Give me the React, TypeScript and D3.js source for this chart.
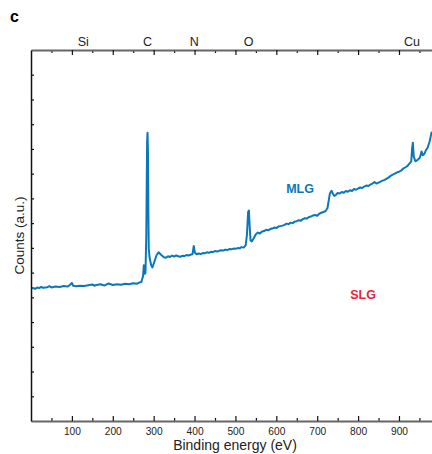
import { useEffect, useRef } from "react";
import * as d3 from "d3";

// binding energy (eV) and counts (a.u.)
const energies = [
  0, 5, 10, 15, 20, 25, 30, 40, 45, 50, 60, 70, 80, 90, 95, 100, 103, 110, 120, 130,
  140, 150, 155, 160, 170, 175, 180, 185, 190, 200, 210, 220, 230, 240, 250, 260, 265, 270, 274, 276,
  278, 280, 282, 284, 285, 286, 287, 288, 290, 294, 297, 302, 307, 312, 318, 325, 330, 335, 340, 345,
  350, 355, 360, 365, 370, 375, 380, 385, 390, 395, 398, 401, 405, 410, 415, 420, 425, 430, 435, 440,
  445, 450, 455, 460, 465, 470, 475, 480, 485, 490, 495, 500, 505, 510, 515, 520, 525, 528, 531, 533,
  535, 537, 540, 545, 550, 555, 560, 565, 570, 575, 580, 585, 590, 595, 600, 605, 610, 615, 620, 625,
  630, 635, 640, 645, 650, 655, 660, 665, 670, 675, 680, 685, 690, 695, 700, 705, 710, 715, 720, 725,
  728, 731, 735, 738, 742, 746, 750, 755, 760, 765, 770, 775, 780, 785, 790, 795, 800, 805, 810, 815,
  820, 825, 830, 835, 840, 845, 850, 855, 860, 865, 870, 875, 880, 885, 890, 895, 900, 905, 910, 915,
  920, 925, 930, 932, 934, 936, 940, 945, 950, 953, 955, 958, 962, 966, 970, 975, 980,
];
const counts = [
  5.36, 5.38, 5.34, 5.4, 5.37, 5.42, 5.39, 5.41, 5.45, 5.4, 5.44, 5.42, 5.46, 5.44, 5.5, 5.58, 5.47, 5.45, 5.47, 5.46,
  5.49, 5.52, 5.47, 5.5, 5.53, 5.5, 5.48, 5.52, 5.56, 5.5, 5.53, 5.51, 5.55, 5.53, 5.57, 5.55, 5.6, 5.62, 5.85, 6.3,
  5.95, 6.0, 7.5, 11.3, 11.65, 11.0, 8.5, 7.0, 6.6, 6.3, 6.21, 6.45, 6.7, 6.82, 6.72, 6.62, 6.6, 6.66, 6.63, 6.69,
  6.65, 6.7, 6.66, 6.64, 6.68, 6.67, 6.71, 6.69, 6.72, 6.74, 7.08, 6.8, 6.74, 6.77, 6.75, 6.79, 6.78, 6.82, 6.8, 6.84,
  6.83, 6.87, 6.85, 6.88, 6.9, 6.89, 6.93, 6.91, 6.95, 6.94, 6.97, 6.96, 6.99, 6.98, 7.03, 7.01, 7.1, 7.5, 8.45, 8.51,
  7.8, 7.3, 7.26, 7.4, 7.55, 7.62, 7.58, 7.66, 7.68, 7.73, 7.71, 7.76, 7.78, 7.82, 7.8, 7.86, 7.88, 7.9, 7.93, 7.98,
  7.96, 8.02, 8.0, 8.06, 8.08, 8.12, 8.1, 8.16, 8.2, 8.19, 8.25, 8.27, 8.31, 8.33, 8.3, 8.38, 8.42, 8.45, 8.48, 8.6,
  8.9, 9.2, 9.31, 9.2, 9.1, 9.15, 9.22, 9.2, 9.26, 9.23, 9.3, 9.27, 9.33, 9.3, 9.38, 9.35, 9.4, 9.44, 9.42, 9.48,
  9.52, 9.5, 9.56, 9.6, 9.66, 9.6, 9.64, 9.68, 9.72, 9.75, 9.8, 9.85, 9.92, 9.96, 10.0, 10.05, 10.08, 10.12, 10.2, 10.25,
  10.3, 10.4, 10.5, 11.0, 11.25, 10.7, 10.5, 10.55, 10.62, 10.75, 10.9, 10.75, 10.8, 10.95, 11.05, 11.3, 11.7,
];

const majorTicks = [100, 200, 300, 400, 500, 600, 700, 800, 900];
const minorTicks = [50, 150, 250, 350, 450, 550, 650, 750, 850, 950];
const countTicks = [1, 2, 3, 4, 5, 6, 7, 8, 9, 10, 11, 12, 13, 14];

const elementNames = ["Si", "C", "N", "O", "Cu"];
const elementEnergies = [128, 285, 399, 532, 932];

const seriesLabels = ["MLG", "SLG"];
const seriesColors = ["#0a78b8", "#e8253a"];
const seriesLabelPos = [
  [658, 9.2],
  [812, 4.92],
];

const App = () => {
  const svgRef = useRef<SVGSVGElement>(null);

  useEffect(() => {
    const W = 432;
    const H = 454;
    const margin = { top: 50, right: 0, bottom: 33, left: 31 };
    const font = "'Liberation Sans', Arial, sans-serif";

    const root = d3.select(svgRef.current);
    root.selectAll("*").remove();
    root.attr("width", W).attr("height", H);

    const x = d3.scaleLinear().domain([0, 980]).range([margin.left, 431.7]);
    const y = d3.scaleLinear().domain([0, 15]).range([H - margin.bottom, margin.top]);

    // spectrum
    const pts: [number, number][] = energies.map((e, i) => [e, counts[i]]);
    const line = d3
      .line<[number, number]>()
      .x(d => x(d[0]))
      .y(d => y(d[1]));
    root
      .append("path")
      .datum(pts)
      .attr("d", line)
      .attr("fill", "none")
      .attr("stroke", seriesColors[0])
      .attr("stroke-width", 2)
      .attr("stroke-linejoin", "round");

    const styleAxis = (g, color, width) => {
      g.select(".domain").attr("stroke", color).attr("stroke-width", width);
      g.selectAll(".tick line").attr("stroke", "#111").attr("stroke-width", 1.2);
    };

    // bottom axis
    const bottomY = y(0);
    const bMinor = root
      .append("g")
      .attr("transform", `translate(0,${bottomY})`)
      .call(d3.axisBottom(x).tickValues(minorTicks).tickSize(-3).tickFormat(() => ""));
    bMinor.select(".domain").remove();
    bMinor.selectAll(".tick line").attr("stroke", "#111").attr("stroke-width", 1.2);
    const bottom = root
      .append("g")
      .attr("transform", `translate(0,${bottomY})`)
      .call(d3.axisBottom(x).tickValues(majorTicks).tickSize(-5).tickSizeOuter(0).tickPadding(6.5));
    styleAxis(bottom, "#666", 2);
    bottom.selectAll("text").attr("font-family", font).attr("font-size", 10.2).attr("fill", "#222");

    // top axis
    const topY = y(15);
    const tMinor = root
      .append("g")
      .attr("transform", `translate(0,${topY})`)
      .call(d3.axisTop(x).tickValues(minorTicks).tickSize(-3).tickFormat(() => ""));
    tMinor.select(".domain").remove();
    tMinor.selectAll(".tick line").attr("stroke", "#111").attr("stroke-width", 1.2);
    const top = root
      .append("g")
      .attr("transform", `translate(0,${topY})`)
      .call(d3.axisTop(x).tickValues(majorTicks).tickSize(-5).tickSizeOuter(0).tickFormat(() => ""));
    styleAxis(top, "#666", 2);

    // left axis
    const left = root
      .append("g")
      .attr("transform", `translate(${margin.left},0)`)
      .call(d3.axisLeft(y).tickValues(countTicks).tickSize(-3).tickSizeOuter(0).tickFormat(() => ""));
    styleAxis(left, "#111", 1.5);

    // element labels above the top axis
    root
      .selectAll(".elem")
      .data(elementNames)
      .enter()
      .append("text")
      .attr("class", "elem")
      .attr("x", (d, i) => x(elementEnergies[i]))
      .attr("y", topY - 4)
      .attr("text-anchor", "middle")
      .attr("font-family", font)
      .attr("font-size", 12.5)
      .attr("fill", "#222")
      .text(d => d);

    // series labels
    root
      .selectAll(".series")
      .data(seriesLabels)
      .enter()
      .append("text")
      .attr("class", "series")
      .attr("x", (d, i) => x(seriesLabelPos[i][0]))
      .attr("y", (d, i) => y(seriesLabelPos[i][1]))
      .attr("text-anchor", "middle")
      .attr("font-family", font)
      .attr("font-weight", "bold")
      .attr("font-size", 12.5)
      .attr("fill", (d, i) => seriesColors[i])
      .text(d => d);

    // axis titles
    root
      .append("text")
      .attr("x", 235)
      .attr("y", 450)
      .attr("text-anchor", "middle")
      .attr("font-family", font)
      .attr("font-size", 14)
      .attr("fill", "#222")
      .text("Binding energy (eV)");
    root
      .append("text")
      .attr("transform", `translate(24,${(y(0) + y(15)) / 2}) rotate(-90)`)
      .attr("text-anchor", "middle")
      .attr("font-family", font)
      .attr("font-size", 13.5)
      .attr("fill", "#222")
      .text("Counts (a.u.)");

    // panel letter
    root
      .append("text")
      .attr("x", 10)
      .attr("y", 22)
      .attr("font-family", font)
      .attr("font-weight", "bold")
      .attr("font-size", 16)
      .attr("fill", "#000")
      .text("c");
  }, []);

  return (
    <div style={{ position: "absolute", left: 0, top: 0 }}>
      <svg ref={svgRef} style={{ display: "block" }}></svg>
    </div>
  );
};

export default App;
